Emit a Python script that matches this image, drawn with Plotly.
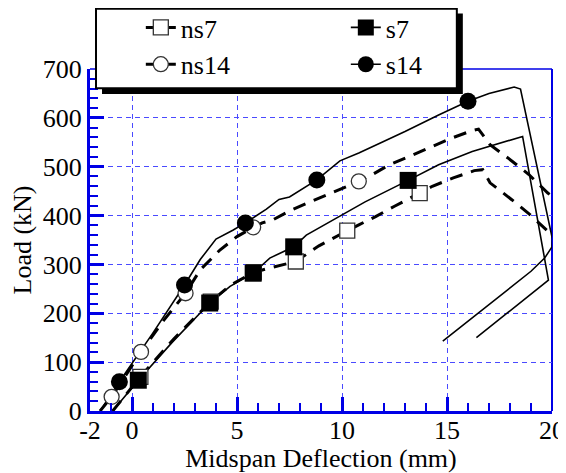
import plotly.graph_objects as go

# load vs. midspan deflection
ns7_x = [-0.92, 0.4, 2.0, 3.75, 4.7, 5.8, 6.5, 7.2, 7.8, 8.9, 9.7, 10.25, 10.8, 11.6, 12.5,
         13.7, 14.3, 15.3, 16.3, 16.7, 17.05, 18.1, 18.95, 19.8, 20.0]
ns7_y = [0, 70, 148, 224, 258, 284, 292, 299, 306, 338, 357, 369, 381, 398, 419,
         446, 460, 477, 492, 494, 467, 432, 402, 368, 358]
ns7_mx = [0.4, 3.75, 5.8, 7.8, 10.25, 13.7]
ns7_my = [70, 224, 284, 306, 369, 446]

s7_x = [-0.92, 0.3, 1.9, 3.7, 4.67, 5.77, 6.56, 7.03, 7.7, 8.3, 9.55, 11.1, 13.15,
        14.6, 16.2, 17.75, 18.6, 19.83, 16.4]
s7_y = [0, 63, 140, 221, 255, 282, 313, 323, 336, 360, 391, 428, 472,
        504, 531, 552, 562, 268, 150]
s7_mx = [0.3, 3.7, 5.77, 7.7, 13.15]
s7_my = [63, 221, 282, 336, 472]

ns14_x = [-1.52, -0.97, 0.43, 1.5, 2.55, 3.25, 4.2, 5.0, 5.77, 6.2, 6.7, 7.57, 8.6, 9.45,
          10.4, 10.8, 11.45, 12.25, 13.2, 14.3, 15.25, 16.2, 16.5, 17.05, 17.9, 18.9, 19.8, 20.0]
ns14_y = [0, 29, 121, 185, 241, 289, 330, 357, 376, 385, 391, 411, 430, 446,
          463, 470, 484, 504, 521, 541, 559, 574, 577, 545, 518, 484, 446, 440]
ns14_mx = [-0.97, 0.43, 2.55, 5.77, 10.8]
ns14_my = [29, 121, 241, 376, 470]

s14_x = [-1.52, -0.6, 1.0, 2.5, 3.25, 4.0, 4.8, 5.4, 6.4, 7.0, 7.5, 8.0, 8.8, 9.9, 10.8,
         11.8, 13.0, 14.6, 16.0, 17.0, 18.2, 18.5, 20.02, 20.0, 19.65, 19.0, 14.8]
s14_y = [0, 60, 160, 258, 310, 352, 370, 385, 413, 433, 438, 452, 473, 512, 528,
         548, 572, 606, 634, 650, 663, 659, 352, 336, 313, 286, 143]
s14_mx = [-0.6, 2.5, 5.4, 8.8, 16.0]
s14_my = [60, 258, 385, 473, 634]

x_ticks = [-2, 0, 5, 10, 15, 20]

blue = "#0000e6"
grid_blue = "#4a4aff"
serif = "Liberation Serif"
dash_ns = "13px,9px"

open_sq = dict(symbol="square", size=15, color="white", line=dict(color="#333333", width=1.3))
full_sq = dict(symbol="square", size=17, color="black", line=dict(color="black", width=0))
open_ci = dict(symbol="circle", size=15, color="white", line=dict(color="#333333", width=1.3))
full_ci = dict(symbol="circle", size=17, color="black", line=dict(color="black", width=0))
line_ns = dict(color="black", width=3, dash=dash_ns)
line_s = dict(color="black", width=1.6)

series = [
    ("ns7", ns7_x, ns7_y, ns7_mx, ns7_my, line_ns, open_sq),
    ("s7", s7_x, s7_y, s7_mx, s7_my, line_s, full_sq),
    ("ns14", ns14_x, ns14_y, ns14_mx, ns14_my, line_ns, open_ci),
    ("s14", s14_x, s14_y, s14_mx, s14_my, line_s, full_ci),
]

fig = go.Figure()

# curves first, then markers (dashed series under the solid ones)
for name, x, y, mx, my, ln, mk in series:
    fig.add_trace(go.Scatter(x=x, y=y, mode="lines", line=ln, showlegend=False,
                             hoverinfo="skip"))
for name, x, y, mx, my, ln, mk in [series[0], series[2], series[1], series[3]]:
    fig.add_trace(go.Scatter(x=mx, y=my, mode="markers", marker=mk, showlegend=False))

# legend entries
for name, x, y, mx, my, ln, mk in series:
    fig.add_trace(go.Scatter(x=[None], y=[None], mode="lines+markers", name=name,
                             line=ln, marker=mk))

# legend box with drop shadow
fig.add_shape(type="rect", xref="paper", yref="paper", x0=0.026, x1=0.807, y0=0.927, y1=1.162,
              fillcolor="black", line=dict(width=0), layer="above")
fig.add_shape(type="rect", xref="paper", yref="paper", x0=0.013, x1=0.794, y0=0.944, y1=1.176,
              fillcolor="white", line=dict(color="black", width=2), layer="above")

# thin top / right frame
fig.add_shape(type="line", xref="paper", yref="paper", x0=0, x1=1, y0=1, y1=1,
              line=dict(color=blue, width=1.5), layer="below")
fig.add_shape(type="line", xref="paper", yref="paper", x0=1, x1=1, y0=0, y1=1,
              line=dict(color=blue, width=2), layer="below")

axis_common = dict(
    showline=True, linecolor=blue, linewidth=3,
    ticks="inside", ticklen=14, tickwidth=3, tickcolor=blue,
    showgrid=True, gridcolor=grid_blue, gridwidth=1.3, griddash="5px,4px",
    zeroline=False, automargin=False,
    tickfont=dict(family=serif, size=26, color="black"),
)

fig.update_xaxes(
    range=[-2, 20], tickmode="array", tickvals=x_ticks, ticktext=[str(v) for v in x_ticks],
    minor=dict(tickmode="linear", tick0=0, dtick=1, ticks="inside", ticklen=8,
               tickwidth=2, tickcolor=blue, showgrid=False),
    title=dict(text="Midspan Deflection (mm)", font=dict(family=serif, size=26, color="black"),
               standoff=2),
    ticklabelstandoff=-6,
    **axis_common,
)
fig.update_yaxes(
    range=[0, 700], dtick=100,
    minor=dict(dtick=20, ticks="inside", ticklen=8, tickwidth=2, tickcolor=blue, showgrid=False),
    title=dict(text="Load (kN)", font=dict(family=serif, size=26, color="black"), standoff=9),
    ticklabelstandoff=0,
    **axis_common,
)

# the page body adds an 8px margin, so the figure is 8px smaller and shifted margins
fig.update_layout(
    width=558, height=465,
    margin=dict(l=82, r=14, t=61, b=62, autoexpand=False),
    paper_bgcolor="white", plot_bgcolor="white",
    showlegend=True,
    legend=dict(orientation="h", x=0.11, y=1.19, xanchor="left", yanchor="top",
                entrywidth=160, bgcolor="rgba(0,0,0,0)", borderwidth=0,
                font=dict(family=serif, size=26, color="black"), traceorder="normal"),
)

fig.write_html("out.html")
